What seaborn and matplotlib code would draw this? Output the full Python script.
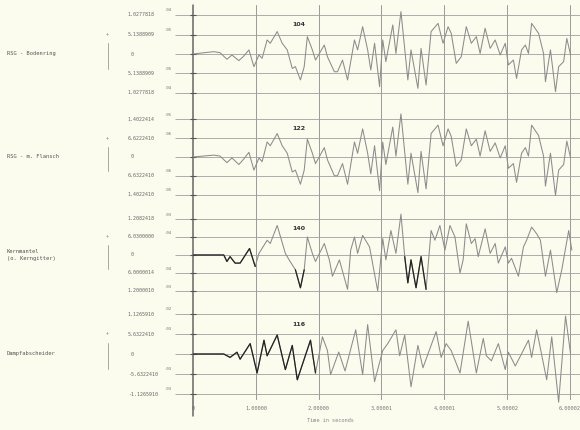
import numpy as np
import pandas as pd
import matplotlib
matplotlib.use("Agg")
import matplotlib.pyplot as plt
import seaborn as sns

# time axis
x_ticks = [0, 1, 2, 3, 4, 5, 6]
x_tick_labels = ["0", "1.00000", "2.00000", "3.00001", "4.00001", "5.00002", "6.00002"]

# panel texts
panel_names = ["RSG - Bodenring", "RSG - m. Flansch", "Kernmantel\n(o. Kerngitter)", "Dampfabscheider"]
panel_numbers = ["104", "122", "140", "116"]
ytick_mantissa = [
    ["1.0277818", "5.1388909", "0", "5.1388909", "1.0277818"],
    ["1.4022414", "6.6222410", "0", "6.6322410", "1.4022410"],
    ["1.2082418", "6.0300000", "0", "6.0000014", "1.2000010"],
    ["1.1265910", "5.6322410", "0", "-5.6322410", "-1.1265910"],
]
ytick_exp = [
    ["-04", "-05", "", "-05", "-04"],
    ["-05", "-06", "", "-06", "-05"],
    ["-03", "-04", "", "-04", "-03"],
    ["-02", "-03", "", "-03", "-03"],
]
grid_levels = [2, 1, 0, -1, -2]

# traces (time in s, amplitude in grid units)
t1 = [0.00, 0.33, 0.43, 0.54, 0.62, 0.73, 0.81, 0.89, 0.97, 1.05, 1.10, 1.18, 1.23, 1.34, 1.42,
      1.50, 1.58, 1.63, 1.71, 1.77, 1.82, 1.90, 1.95, 2.09, 2.14, 2.25, 2.30, 2.38, 2.46, 2.57,
      2.62, 2.70, 2.78, 2.83, 2.89, 2.97, 3.02, 3.07, 3.18, 3.23, 3.31, 3.42, 3.47, 3.58, 3.63,
      3.71, 3.79, 3.90, 3.98, 4.06, 4.11, 4.19, 4.27, 4.35, 4.43, 4.51, 4.57, 4.65, 4.73, 4.81,
      4.89, 4.97, 5.02, 5.10, 5.15, 5.23, 5.29, 5.34, 5.39, 5.50, 5.58, 5.61, 5.69, 5.77, 5.82,
      5.90, 5.95, 6.01]
v1 = [0.00, 0.12, 0.07, -0.27, -0.05, -0.34, -0.10, 0.21, -0.65, -0.05, -0.22, 0.72, 0.55, 1.15, 0.55,
      0.21, -0.74, -0.65, -1.33, -0.65, 0.89, 0.21, -0.31, 0.46, -0.14, -0.91, -0.91, -0.31, -1.33, 0.72,
      0.21, 1.40, 0.21, -0.82, 0.55, -1.68, 0.72, -0.39, 1.49, 0.03, 2.17, -1.33, 0.21, -1.76, 0.29,
      -1.59, 1.15, 1.57, 0.55, 1.40, 1.06, -0.48, -0.14, 1.40, 0.55, 0.89, 0.03, 1.32, 0.29, 0.72,
      -0.05, 0.55, -0.56, -0.31, -1.25, 0.21, 0.46, 0.03, 1.57, 1.06, 0.03, -1.42, 0.21, -1.93, -0.65,
      -0.39, 0.80, -0.05]

t2 = [0.00, 0.33, 0.43, 0.54, 0.62, 0.73, 0.81, 0.89, 0.97, 1.05, 1.10, 1.18, 1.23, 1.34, 1.42,
      1.50, 1.58, 1.63, 1.71, 1.77, 1.82, 1.90, 1.95, 2.09, 2.14, 2.25, 2.30, 2.38, 2.46, 2.57,
      2.62, 2.70, 2.78, 2.83, 2.89, 2.97, 3.02, 3.07, 3.18, 3.23, 3.31, 3.42, 3.47, 3.58, 3.63,
      3.71, 3.79, 3.90, 3.98, 4.06, 4.11, 4.19, 4.27, 4.35, 4.43, 4.51, 4.57, 4.65, 4.73, 4.81,
      4.89, 4.97, 5.02, 5.10, 5.15, 5.23, 5.29, 5.34, 5.39, 5.50, 5.58, 5.61, 5.69, 5.77, 5.82,
      5.90, 5.95, 6.01]
v2 = [0.00, 0.10, 0.05, -0.30, -0.05, -0.40, -0.10, 0.25, -0.70, -0.05, -0.25, 0.80, 0.60, 1.25, 0.60,
      0.20, -0.80, -0.70, -1.45, -0.70, 0.95, 0.20, -0.35, 0.50, -0.15, -1.00, -1.00, -0.35, -1.45, 0.80,
      0.20, 1.50, 0.20, -0.90, 0.60, -1.80, 0.80, -0.40, 1.60, 0.05, 2.30, -1.45, 0.20, -1.90, 0.30,
      -1.70, 1.25, 1.70, 0.60, 1.50, 1.10, -0.50, -0.15, 1.50, 0.60, 0.95, 0.05, 1.40, 0.30, 0.75,
      -0.05, 0.60, -0.60, -0.35, -1.35, 0.20, 0.50, 0.05, 1.70, 1.15, 0.05, -1.55, 0.20, -2.05, -0.70,
      -0.40, 0.85, -0.05]

t3 = [0.00, 0.49, 0.54, 0.59, 0.67, 0.75, 0.90, 0.99, 1.05, 1.18, 1.23, 1.34, 1.47, 1.53, 1.63,
      1.71, 1.77, 1.82, 1.90, 1.95, 2.09, 2.17, 2.22, 2.33, 2.46, 2.51, 2.57, 2.62, 2.70, 2.81,
      2.94, 3.02, 3.07, 3.15, 3.23, 3.31, 3.37, 3.42, 3.47, 3.55, 3.63, 3.71, 3.79, 3.85, 3.93,
      4.01, 4.09, 4.17, 4.25, 4.30, 4.35, 4.43, 4.49, 4.54, 4.65, 4.73, 4.81, 4.86, 4.97, 5.02,
      5.07, 5.18, 5.26, 5.31, 5.39, 5.47, 5.53, 5.61, 5.69, 5.79, 5.87, 5.98, 6.03]
v3 = [0.00, 0.00, -0.36, -0.09, -0.45, -0.45, 0.36, -0.64, 0.09, 0.82, 0.64, 1.64, 0.09, -0.27, -0.82,
      -1.82, -0.82, 1.00, 0.09, -0.36, 0.64, -0.27, -1.18, -0.27, -1.91, 0.27, 1.00, 0.09, 1.09, 0.45,
      -2.00, 0.91, -0.27, 1.36, 0.09, 2.27, -0.09, -1.55, -0.27, -1.82, -0.09, -1.91, 1.36, 0.82, 1.64,
      0.27, 1.64, 1.00, -1.00, -0.27, 1.73, 0.64, 0.91, -0.09, 1.45, 0.09, 0.64, -0.45, 0.45, -0.45,
      -0.18, -1.18, 0.45, 0.82, 1.55, 1.18, 0.82, -1.18, 0.27, -2.09, -0.82, 1.36, 0.27]

t4 = [0.00, 0.49, 0.59, 0.70, 0.75, 0.91, 1.02, 1.13, 1.18, 1.34, 1.47, 1.58, 1.66, 1.87, 1.95,
      2.06, 2.14, 2.19, 2.32, 2.42, 2.59, 2.70, 2.78, 2.89, 3.02, 3.10, 3.23, 3.29, 3.37, 3.47,
      3.58, 3.66, 3.87, 3.95, 4.03, 4.11, 4.25, 4.38, 4.51, 4.62, 4.67, 4.75, 4.86, 4.97, 5.02,
      5.13, 5.34, 5.39, 5.47, 5.63, 5.71, 5.82, 5.93, 6.01]
v4 = [0.00, 0.00, -0.17, 0.09, -0.26, 0.52, -0.95, 0.69, -0.09, 0.95, -0.78, 0.43, -1.29, 0.69, -0.95,
      0.86, 0.17, -1.03, 0.10, -0.85, 1.21, -1.03, 1.47, -1.38, 0.17, 0.52, 1.21, -0.09, 0.95, -1.64,
      0.43, -0.69, 1.12, -0.17, 0.52, 0.17, -0.95, 1.64, -0.95, 0.78, -0.09, -0.34, 0.52, -0.78, 0.09,
      -0.60, 0.69, -0.17, 1.21, -1.29, 0.86, -2.41, 1.90, 0.00]

traces = [(t1, v1), (t2, v2), (t3, v3), (t4, v4)]
dark_spans = [[], [], [(0.0, 0.99), (1.60, 1.80), (3.35, 3.75)], [(0.0, 1.95)]]

# layout in pixels (image is 580 x 430)
W, H = 580, 430
x0_px, px_per_s = 193, 62.5
x_max = (578 - x0_px) / px_per_s
centers = [54, 157, 255, 354]
units = [19.5, 18.75, 18.0, 20.0]

paper = "#fbfbee"
grey = "#8c8c8c"
sns.set_style("white")
plt.rcParams["font.family"] = ["DejaVu Sans Mono", "DejaVu Sans"]

fig = plt.figure(figsize=(W / 100, H / 100), dpi=100, facecolor=paper)

# frame with the vertical time lines
frame = fig.add_axes([x0_px / W, (H - 400) / H, (W - x0_px) / W, 395 / H])
frame.set_facecolor("none")
frame.set_xlim(0, x_max)
frame.set_ylim(0, 1)
for s in frame.spines.values():
    s.set_visible(False)
frame.set_yticks([])
frame.set_xticks(x_ticks)
frame.set_xticklabels(x_tick_labels, fontsize=3.8, color="#777777")
frame.tick_params(axis="x", length=0, pad=4)
for t in x_ticks[1:]:
    frame.axvline(t, color="#9a9a9a", lw=0.7, zorder=0)
frame.axvline(0, ymin=-0.04, ymax=1, color="#666666", lw=1.1, clip_on=False)
fig.text(330 / W, 1 - 421 / H, "Time in seconds", fontsize=3.8, color="#888888",
         ha="center", va="center")

for i, (tt, vv) in enumerate(traces):
    half = 2.5 * units[i]
    ax = fig.add_axes([x0_px / W, (H - centers[i] - half) / H, (W - x0_px) / W, 2 * half / H])
    ax.set_facecolor("none")
    ax.set_xlim(0, x_max)
    ax.set_ylim(-2.5, 2.5)
    ax.axis("off")
    ax.hlines(grid_levels, -0.29, x_max, color="#a0a0a0", lw=0.6, clip_on=False, zorder=0)
    # small ticks across the axis
    ax.hlines(grid_levels, -0.05, 0.05, color="#555555", lw=0.8, clip_on=False)

    df = pd.DataFrame({"t": tt, "v": vv})
    sns.lineplot(data=df, x="t", y="v", ax=ax, color=grey, lw=0.75, legend=False,
                 solid_joinstyle="round")
    for a, b in dark_spans[i]:
        part = df[(df["t"] >= a) & (df["t"] <= b)]
        sns.lineplot(data=part, x="t", y="v", ax=ax, color="#222222", lw=0.9, legend=False,
                     solid_joinstyle="round")
    ax.axis("off")

    # panel number
    ax.text((298 - x0_px) / px_per_s, 1.5, panel_numbers[i], fontsize=4.5, fontweight="bold",
            color="#333333", ha="center", va="center", family="DejaVu Sans")

    # y tick texts left of the axis
    for lev, man, ex in zip(grid_levels, ytick_mantissa[i], ytick_exp[i]):
        xm = (128 - x0_px) / px_per_s
        if man == "0":
            xm = (131 - x0_px) / px_per_s
        ax.text(xm, lev, man, fontsize=3.6, color="#6a6a6a", ha="left", va="center", clip_on=False)
        if ex:
            ax.text((164 - x0_px) / px_per_s, lev + 0.25, ex, fontsize=2.8, color="#6a6a6a",
                    ha="left", va="center", clip_on=False)

    # panel name
    ax.text((8 - x0_px) / px_per_s, 0, panel_names[i], fontsize=3.9, color="#555555",
            ha="left", va="center", clip_on=False, linespacing=1.6)

    # small scale marker
    xs = (108 - x0_px) / px_per_s
    ax.plot([xs, xs], [-0.75, 0.55], color="#999999", lw=0.6, clip_on=False)
    ax.text(xs, 1.05, "+", fontsize=3.5, color="#888888", ha="center", va="center", clip_on=False)

fig.savefig("out.png", dpi=100, facecolor=paper)
